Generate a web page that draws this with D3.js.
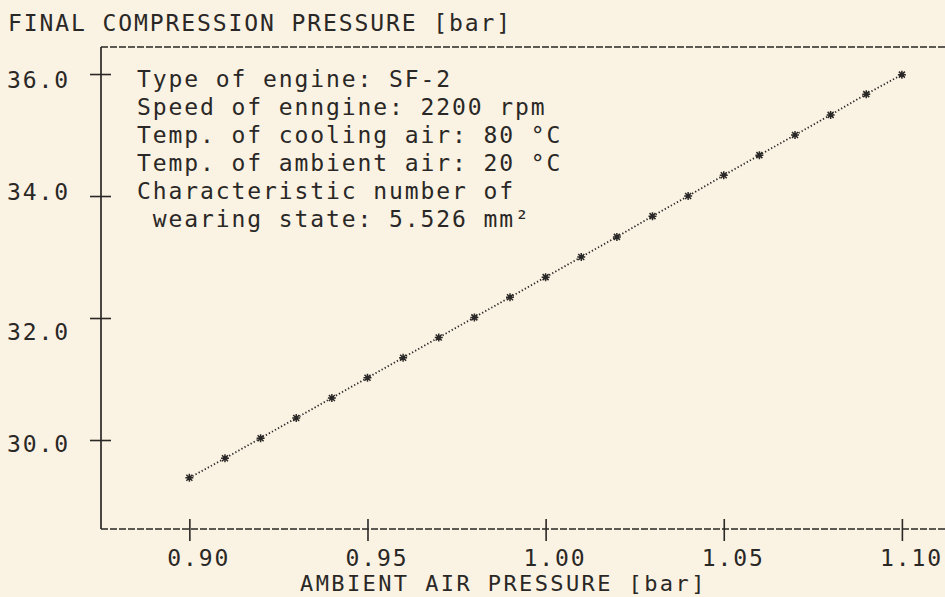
<!DOCTYPE html>
<html>
<head>
<meta charset="utf-8">
<script src="https://cdn.jsdelivr.net/npm/d3@7/dist/d3.min.js"></script>
<style>
  html, body { margin: 0; padding: 0; background: #faf2e3; }
  svg { display: block; }
  text { font-family: "DejaVu Sans Mono", "Liberation Mono", monospace; font-size: 23px; letter-spacing: 1.9px; fill: #2a2826; }
  text.x-title { font-size: 22px; letter-spacing: 2.4px; }
</style>
</head>
<body>
<svg id="chart" width="945" height="597"></svg>
<script>
// Ambient air pressure [bar] and the resulting final compression pressure [bar]
const ambientPressure = [0.90, 0.91, 0.92, 0.93, 0.94, 0.95, 0.96, 0.97, 0.98, 0.99, 1.00,
                         1.01, 1.02, 1.03, 1.04, 1.05, 1.06, 1.07, 1.08, 1.09, 1.10];
const compressionPressure = [29.38, 29.70, 30.03, 30.36, 30.69, 31.02, 31.35, 31.68, 32.01, 32.34, 32.67,
                             33.00, 33.33, 33.67, 34.00, 34.34, 34.67, 35.00, 35.33, 35.67, 35.99];

const xTicks = [0.90, 0.95, 1.00, 1.05, 1.10];
const yTicks = [30.0, 32.0, 34.0, 36.0];

const yTitle = "FINAL COMPRESSION PRESSURE [bar]";
const xTitle = "AMBIENT AIR PRESSURE [bar]";
const infoLines = [
  "Type of engine: SF-2",
  "Speed of enngine: 2200 rpm",
  "Temp. of cooling air: 80 °C",
  "Temp. of ambient air: 20 °C",
  "Characteristic number of",
  " wearing state: 5.526 mm²"
];

const svg = d3.select("#chart");
const ink = "#2a2826";

// plot frame
const frameLeft = 101, frameRight = 945, frameTop = 47, frameBottom = 529;

const x = d3.scaleLinear().domain([0.8752, 1.1121]).range([frameLeft, frameRight]);
const y = d3.scaleLinear().domain([28.541, 36.443]).range([frameBottom, frameTop]);

// printer text rows: baselines on a fixed line pitch
const rowPitch = 28, rowOrigin = 3;
const snapRow = v => rowOrigin + Math.round((v + 8 - rowOrigin) / rowPitch) * rowPitch;

// frame: solid left axis, dashed top and bottom rules
svg.append("line")
  .attr("x1", frameLeft).attr("x2", frameLeft).attr("y1", frameTop).attr("y2", frameBottom)
  .attr("stroke", ink).attr("stroke-width", 1.7);
[frameTop, frameBottom].forEach(yy => {
  svg.append("line")
    .attr("x1", frameLeft).attr("x2", frameRight).attr("y1", yy).attr("y2", yy)
    .attr("stroke", ink).attr("stroke-width", 1.6)
    .attr("stroke-dasharray", "7 2");
});

// y axis
const yAxis = d3.axisLeft(y).tickValues(yTicks).tickFormat(d3.format(".1f"))
  .tickSize(11).tickPadding(22);
const gy = svg.append("g").attr("transform", `translate(${frameLeft},0)`).call(yAxis);
gy.select(".domain").remove();
gy.selectAll(".tick line").attr("x1", -11).attr("x2", 10)
  .attr("stroke", ink).attr("stroke-width", 1.6);
gy.selectAll(".tick").each(function(d) {
  const t = d3.select(this);
  const ty = y(d);
  t.select("text")
    .attr("dy", null)
    .attr("y", snapRow(ty) - ty)
    .attr("x", -31)
    .attr("font-size", null).attr("font-family", null)
    .style("fill", ink);
});

// x axis
const xAxis = d3.axisBottom(x).tickValues(xTicks).tickFormat(d3.format(".2f"))
  .tickSize(12).tickPadding(25);
const gx = svg.append("g").attr("transform", `translate(0,${frameBottom})`).call(xAxis);
gx.select(".domain").remove();
gx.selectAll(".tick line").attr("y1", -10).attr("y2", 12)
  .attr("stroke", ink).attr("stroke-width", 1.6);
gx.selectAll(".tick text")
  .attr("dy", null).attr("y", 37).attr("x", 9)
  .attr("font-size", null).attr("font-family", null)
  .style("fill", ink);

// titles
svg.append("text").attr("x", 8).attr("y", 31).text(yTitle);
svg.append("text").attr("class", "x-title").attr("x", 300).attr("y", 591).text(xTitle);

// engine information block
svg.append("g").selectAll("text").data(infoLines).join("text")
  .attr("x", 137)
  .attr("y", (d, i) => 87 + i * rowPitch)
  .style("white-space", "pre")
  .text(d => d);

// data: dotted line through asterisk markers
const pts = ambientPressure.map((p, i) => [p, compressionPressure[i]]);
svg.append("path")
  .datum(pts)
  .attr("fill", "none")
  .attr("stroke", ink)
  .attr("stroke-width", 1.8)
  .attr("stroke-dasharray", "1.3 2.2")
  .attr("d", d3.line().x(d => x(d[0])).y(d => y(d[1])));

const marks = svg.append("g").selectAll("g").data(pts).join("g")
  .attr("transform", d => `translate(${x(d[0])},${y(d[1])})`);
marks.append("path")
  .attr("d", "M-4,0H4M0,-4V4M-3,-3L3,3M-3,3L3,-3")
  .attr("stroke", ink).attr("stroke-width", 1.5);
</script>
</body>
</html>
